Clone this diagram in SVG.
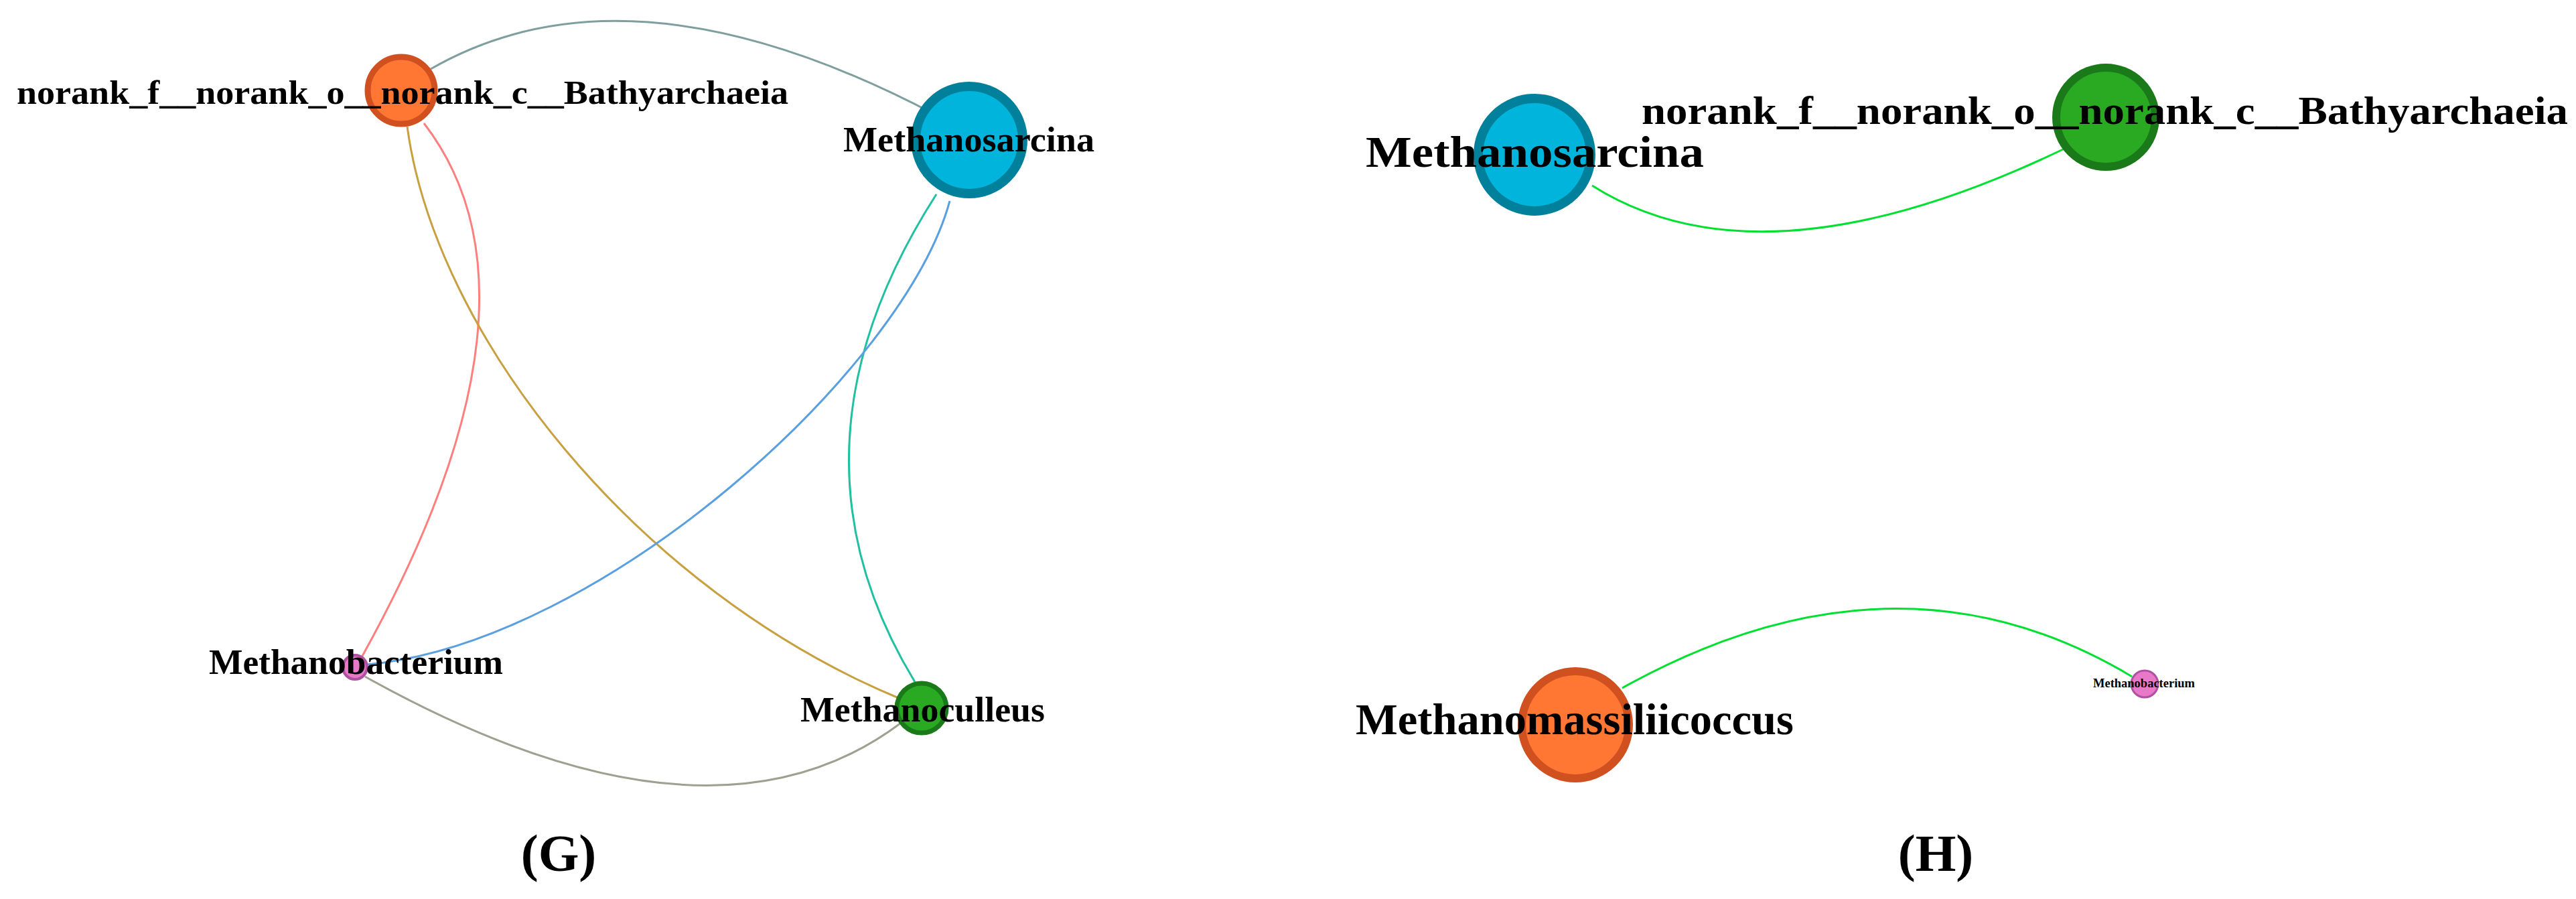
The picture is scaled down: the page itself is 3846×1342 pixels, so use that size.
<svg xmlns="http://www.w3.org/2000/svg" width="3846" height="1342" viewBox="0 0 3846 1342">
<style>
text{font-family:"Liberation Serif","Times New Roman",serif;font-weight:bold;fill:#000}
.e{fill:none;stroke-width:3}
.or{fill:#ff7733;stroke:#d05020}
.bl{fill:#00b4dc;stroke:#00809a}
.gr{fill:#2aaa22;stroke:#1a7a1a}
.pk{fill:#e878c8;stroke:#b050a0}
</style>
<rect width="3846" height="1342" fill="#fff"/>
<g id="connectors">
<path class="e" stroke="#7f9f9f" d="M643,103 Q942,-69 1398,172"/>
<path class="e" stroke="#ff7f7f" d="M633,184 Q836,448 540,981"/>
<path class="e" stroke="#c8a040" d="M608,189 C650,500 950,880 1344,1043"/>
<path class="e" stroke="#20c0a0" d="M1398,290 Q1154,670 1366,1018"/>
<path class="e" stroke="#5aa0e0" d="M1418,300 C1350,550 900,960 548,992"/>
<path class="e" stroke="#a0a090" d="M545,1010 Q1056,1295 1344,1080"/>
<path class="e" stroke="#00e030" d="M2377,277 Q2632,438 3082,222"/>
<path class="e" stroke="#00e030" d="M2422,1027 Q2831,799 3183,1010"/>
</g>
<g id="G_bathy"><circle class="or" cx="599" cy="135" r="50" stroke-width="9"/>
<text x="25" y="155" font-size="50" textLength="1152" lengthAdjust="spacingAndGlyphs">norank_f__norank_o__norank_c__Bathyarchaeia</text></g>
<g id="G_sarcina"><circle class="bl" cx="1447" cy="209" r="80" stroke-width="14"/>
<text x="1259" y="226" font-size="52" textLength="375" lengthAdjust="spacingAndGlyphs">Methanosarcina</text></g>
<g id="G_bacterium"><circle class="pk" cx="530" cy="996" r="18" stroke-width="4"/>
<text x="312" y="1006" font-size="52" textLength="439" lengthAdjust="spacingAndGlyphs">Methanobacterium</text></g>
<g id="G_culleus"><circle class="gr" cx="1376" cy="1057" r="37" stroke-width="7"/>
<text x="1195" y="1077" font-size="52" textLength="365" lengthAdjust="spacingAndGlyphs">Methanoculleus</text></g>
<text x="834" y="1300" font-size="78" text-anchor="middle" font-weight="normal">(<tspan font-weight="bold">G</tspan>)</text>
<g id="H_sarcina"><circle class="bl" cx="2291" cy="231" r="84" stroke-width="14"/>
<text x="2039" y="249" font-size="66" textLength="505" lengthAdjust="spacingAndGlyphs">Methanosarcina</text></g>
<g id="H_bathy"><circle class="gr" cx="3144" cy="175" r="74" stroke-width="12"/>
<text x="2451" y="185" font-size="60" textLength="1383" lengthAdjust="spacingAndGlyphs">norank_f__norank_o__norank_c__Bathyarchaeia</text></g>
<g id="H_massilii"><circle class="or" cx="2352" cy="1082" r="80" stroke-width="12"/>
<text x="2024" y="1096" font-size="66" textLength="654" lengthAdjust="spacingAndGlyphs">Methanomassiliicoccus</text></g>
<g id="H_bacterium"><circle class="pk" cx="3202" cy="1021" r="20" stroke-width="3"/>
<text x="3125" y="1026" font-size="19" textLength="152" lengthAdjust="spacingAndGlyphs">Methanobacterium</text></g>
<text x="2890" y="1300" font-size="78" text-anchor="middle" font-weight="normal">(<tspan font-weight="bold">H</tspan>)</text>
</svg>
